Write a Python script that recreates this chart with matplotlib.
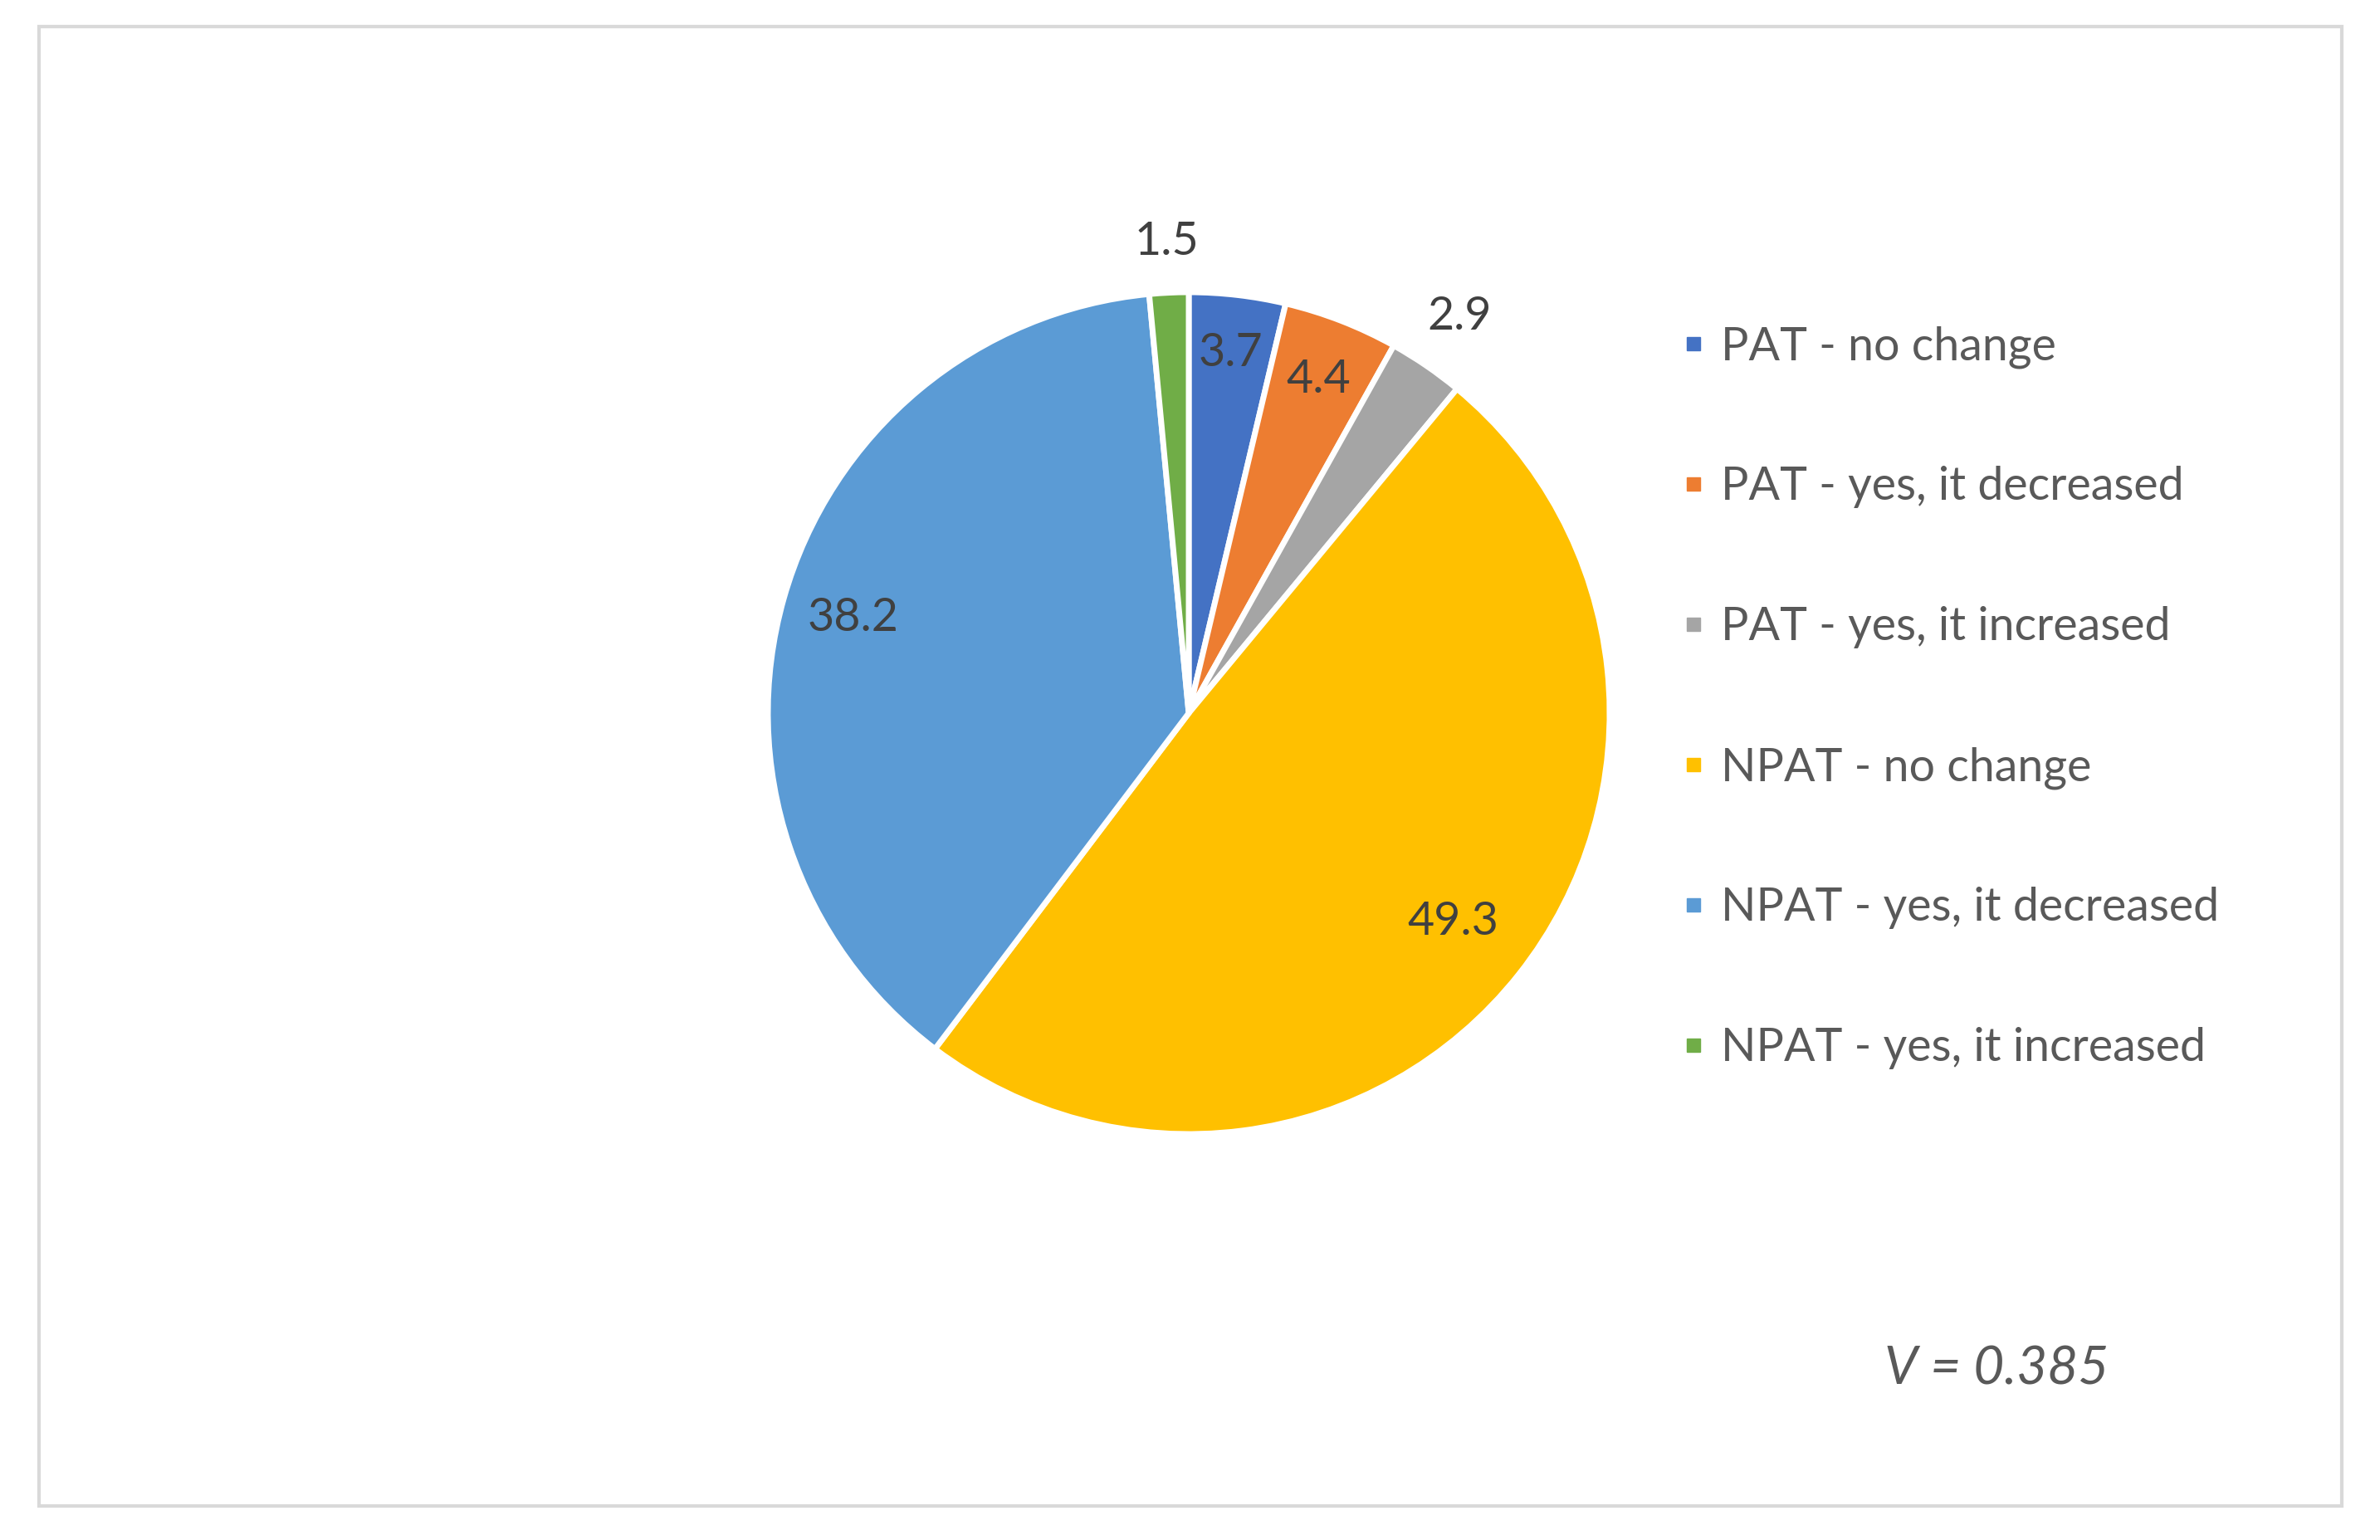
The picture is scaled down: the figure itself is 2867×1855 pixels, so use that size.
import matplotlib.pyplot as plt
import numpy as np
from matplotlib.lines import Line2D
from matplotlib.patches import Rectangle

plt.rcParams['font.family'] = ['Lato', 'DejaVu Sans']

# data
categories = ["PAT - no change", "PAT - yes, it decreased", "PAT - yes, it increased",
              "NPAT - no change", "NPAT - yes, it decreased", "NPAT - yes, it increased"]
values = [3.7, 4.4, 2.9, 49.3, 38.2, 1.5]
colors = ["#4472C4", "#ED7D31", "#A5A5A5", "#FFC000", "#5B9BD5", "#70AD47"]
# radial position of each value label, as fraction of the radius
label_dist = [0.86, 0.85, 1.14, 0.80, 0.83, 1.12]
note = "V = 0.385"

W, H = 2867, 1855
fig = plt.figure(figsize=(W / 100, H / 100), dpi=100)
ax = fig.add_axes([0, 0, 1, 1])
ax.set_xlim(0, W)
ax.set_ylim(0, H)
ax.set_aspect('equal')
ax.axis('off')

# light grey frame round the chart area
ax.add_patch(Rectangle((47, H - 1814), 2774, 1782, fill=False,
                       edgecolor='#d9d9d9', linewidth=3))

cx, cy, R = 1432, H - 859, 507
wedges, _ = ax.pie(values, colors=colors, startangle=90, counterclock=False,
                   center=(cx, cy), radius=R, frame=True,
                   wedgeprops=dict(edgecolor='white', linewidth=5))
ax.set_xlim(0, W)
ax.set_ylim(0, H)
ax.axis('off')

for w, v, d in zip(wedges, values, label_dist):
    ang = np.deg2rad((w.theta1 + w.theta2) / 2)
    ax.text(cx + d * R * np.cos(ang), cy + d * R * np.sin(ang), f"{v:.1f}",
            ha='center', va='center', fontsize=40, color='#404040')

handles = [Line2D([], [], marker='s', linestyle='none', markersize=11,
                  markerfacecolor=c, markeredgecolor=c) for c in colors]
ax.legend(handles, categories, loc='upper left', bbox_to_anchor=(2004 / W, 1 - 370 / H),
          frameon=False, fontsize=40, labelcolor='#595959', handlelength=0.5,
          handletextpad=0.35, labelspacing=2.12, borderaxespad=0)

ax.text(2270, H - 1649, note, ha='left', va='center', fontsize=46,
        style='italic', color='#595959')

fig.savefig("out.png", dpi=100)
